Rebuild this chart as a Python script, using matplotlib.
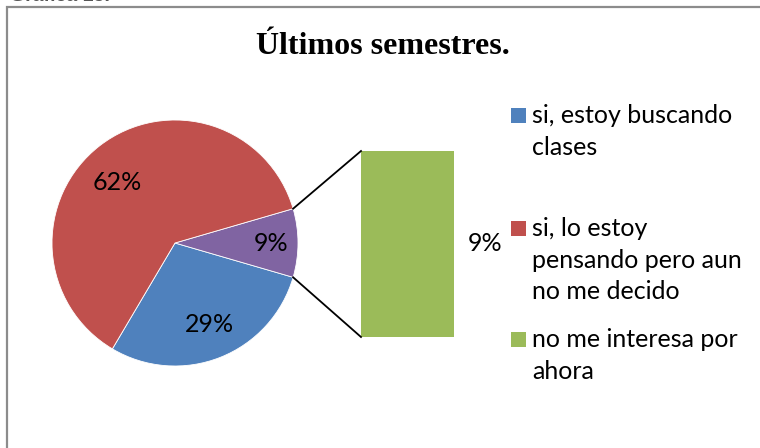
import numpy as np
import matplotlib.pyplot as plt
from matplotlib.patches import Rectangle

titulo = 'Últimos semestres.'
categorias = ['si, estoy buscando\nclases',
              'si, lo estoy\npensando pero aun\nno me decido',
              'no me interesa por\nahora']
valores = [29, 62, 9]
colores = ['#4F81BD', '#C0504D', '#9BBB59']
color_otros = '#8064A2'

fuente = ['Lato', 'DejaVu Sans']

fig = plt.figure(figsize=(7.6, 4.48), dpi=100)
ax = fig.add_axes([0, 0, 1, 1])

# pastel: azul, "otros" (morado), rojo en sentido antihorario
pie_vals = [valores[0], valores[2], valores[1]]
pie_cols = [colores[0], color_otros, colores[1]]
inicio = -(valores[2] / 2 + valores[0]) * 3.6
centro = (175, 205)
radio = 123
wedges, _ = ax.pie(pie_vals, colors=pie_cols, startangle=inicio, center=centro,
                   radius=radio, wedgeprops=dict(edgecolor='white', linewidth=0.6))

# etiquetas del pastel
dist = [0.72, 0.78, 0.68]
giro = [1, 0, 6]
for w, v, d, g in zip(wedges, pie_vals, dist, giro):
    ang = np.deg2rad((w.theta1 + w.theta2) / 2 + g)
    ax.text(centro[0] + d * radio * np.cos(ang), centro[1] + d * radio * np.sin(ang),
            f'{v}%', ha='center', va='center', fontsize=18, family=fuente, color='black')

# barra de "otros"
barra_x = 407.5
barra_ancho = 93
barra_base = 111
escala = 186 / valores[2]
ax.bar([barra_x], [valores[2] * escala], bottom=barra_base, width=barra_ancho,
       color=colores[2], edgecolor='none')
ax.text(barra_x + barra_ancho / 2 + 31, barra_base + valores[2] * escala / 2 + 1,
        f'{valores[2]}%', ha='center', va='center', fontsize=18, family=fuente)

# lineas de conexion
w_otros = wedges[1]
for th, yb in [(w_otros.theta1, barra_base), (w_otros.theta2, barra_base + valores[2] * escala)]:
    a = np.deg2rad(th)
    ax.plot([centro[0] + radio * np.cos(a), barra_x - barra_ancho / 2],
            [centro[1] + radio * np.sin(a), yb], color='black', lw=1.3)

ax.set_xlim(0, 760)
ax.set_ylim(0, 448)
ax.set_aspect('equal')
ax.axis('off')

# titulo
ax.text(383, 448 - 54, titulo, ha='center', va='baseline', fontsize=23,
        family='Liberation Serif', fontweight='bold')
# pie de la grafica anterior, cortado por el borde superior
ax.text(10, 448 - 1, 'Gráfica 15.', ha='left', va='baseline', fontsize=14,
        family='Liberation Sans', fontweight='bold', color='#555555', clip_on=False)

# leyenda
leyenda_y = [116, 229, 340]
for cat, col, yy in zip(categorias, colores, leyenda_y):
    ax.add_patch(Rectangle((511, 448 - yy - 7), 15, 15, facecolor=col, edgecolor='none'))
    ax.text(532, 448 - yy + 12, cat, ha='left', va='top', fontsize=18, family=fuente,
            linespacing=1.45)

# marco
ax.add_patch(Rectangle((6.5, -20), 900, 448 - 7 + 20, fill=False,
                       edgecolor='#8c8c8c', lw=1.6, clip_on=False))

fig.savefig('out.png', dpi=100)
